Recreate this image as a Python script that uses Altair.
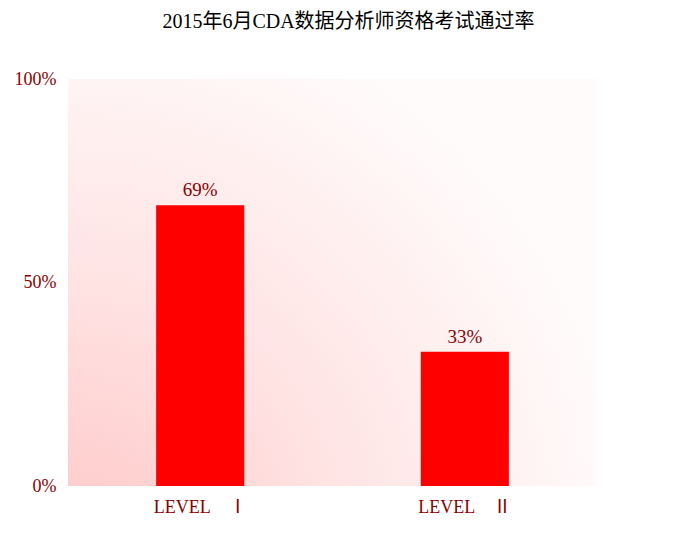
import altair as alt
import pandas as pd

title_text = "2015年6月CDA数据分析师资格考试通过率"
levels = ["LEVEL\u2003Ⅰ", "LEVEL\u2003Ⅱ"]
rates = [0.69, 0.33]
y_ticks = [0, 0.5, 1]

df = pd.DataFrame({"level": levels, "rate": rates})

FONT = "Liberation Serif, Noto Sans CJK SC"
DARK = "#8B0000"

x_enc = alt.X("level:N", sort=levels, title=None,
              scale=alt.Scale(paddingInner=0.667, paddingOuter=0.333),
              axis=alt.Axis(labelAngle=0, labelFontSize=18, labelColor=DARK,
                            labelFont=FONT, domain=False, ticks=False, tickSize=0,
                            labelPadding=12))
y_enc = alt.Y("rate:Q", title=None,
              scale=alt.Scale(domain=[0, 1], nice=False),
              axis=alt.Axis(values=y_ticks, format=".0%", labelFontSize=18,
                            labelColor=DARK, labelFont=FONT, domain=False,
                            ticks=False, tickSize=0, grid=False, labelPadding=12))

bg = alt.Chart(alt.Data(values=[{"k": 1}])).mark_rect(
    color=alt.RadialGradient(
        gradient="radial",
        stops=[alt.GradientStop(color="#FFC8C8", offset=0),
               alt.GradientStop(color="#FFE4E4", offset=0.5),
               alt.GradientStop(color="#FFFBFB", offset=1)],
        x1=0, y1=1, r1=0, x2=0, y2=1, r2=1.05)
).encode(x=alt.value(0), x2=alt.value("width"), y=alt.value(0), y2=alt.value("height"))

bars = alt.Chart(df).mark_bar(color="#FF0000").encode(x=x_enc, y=y_enc)
labels = alt.Chart(df).mark_text(baseline="bottom", dy=-5, fontSize=19,
                                 font=FONT, color=DARK).encode(
    x=alt.X("level:N", sort=levels), y=alt.Y("rate:Q"),
    text=alt.Text("rate:Q", format=".0%"))

chart = alt.layer(bg, bars, labels).properties(
    width=529, height=407,
    title=alt.TitleParams(title_text, fontSize=20, font=FONT, color="#000000",
                          fontWeight="normal", anchor="middle", dx=16, offset=38),
    padding={"left": 60, "top": 71, "right": 10, "bottom": 40},
    autosize=alt.AutoSizeParams(type="none"),
    background="#FFFFFF",
).configure_view(stroke=None)

chart.save("out.html", embed_options={"renderer": "svg", "actions": False})
